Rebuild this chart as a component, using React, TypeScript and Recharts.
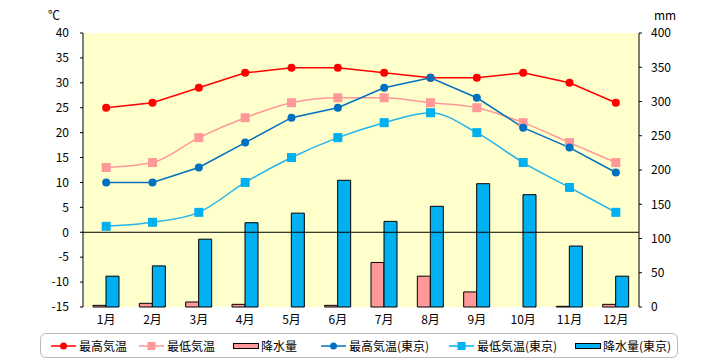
import React from 'react';
import { ComposedChart, Bar, Line, XAxis, YAxis, CartesianGrid, ReferenceLine } from 'recharts';

const months = ['1月', '2月', '3月', '4月', '5月', '6月', '7月', '8月', '9月', '10月', '11月', '12月'];
const maxTemp = [25, 26, 29, 32, 33, 33, 32, 31, 31, 32, 30, 26];
const minTemp = [13, 14, 19, 23, 26, 27, 27, 26, 25, 22, 18, 14];
const rain = [2.4, 5.4, 7.3, 3.9, 0, 2.4, 65, 45, 22, 0, 1, 3.9];
const maxTokyo = [10, 10, 13, 18, 23, 25, 29, 31, 27, 21, 17, 12];
const minTokyo = [1.2, 2, 4, 10, 15, 19, 22, 24, 20, 14, 9, 4];
const rainTokyo = [45, 60, 99, 123, 137, 185, 125, 147, 180, 164, 89, 45];

const tempTicks = [-15, -10, -5, 0, 5, 10, 15, 20, 25, 30, 35, 40];
const rainTicks = [0, 50, 100, 150, 200, 250, 300, 350, 400];

const data = months.map((m, i) => ({
  month: m,
  maxTemp: maxTemp[i],
  minTemp: minTemp[i],
  rain: rain[i],
  maxTokyo: maxTokyo[i],
  minTokyo: minTokyo[i],
  rainTokyo: rainTokyo[i],
}));

const font = '"Noto Sans CJK JP", "Noto Sans", sans-serif';

const squareDot = (fill: string) => (props: any) => {
  const { cx, cy, index } = props;
  if (cx == null || cy == null) return null;
  return <rect key={index} x={cx - 4.5} y={cy - 4.5} width={9} height={9} fill={fill} />;
};

const legendItems = [
  { label: '最高気温', color: '#FF0000', kind: 'circle', left: 50 },
  { label: '最低気温', color: '#FF9999', kind: 'square', left: 138 },
  { label: '降水量', color: '#FF9999', kind: 'bar', left: 232 },
  { label: '最高気温(東京)', color: '#0070C0', kind: 'circle', left: 320 },
  { label: '最低気温(東京)', color: '#00B0F0', kind: 'square', left: 448 },
  { label: '降水量(東京)', color: '#00B0F0', kind: 'bar', left: 574 },
];

function LegendBox() {
  return (
    <div style={{ position: 'absolute', left: 40, top: 333, width: 636, height: 23, border: '1px solid #BBBBBB', borderRadius: 6, fontFamily: font, fontSize: 12 }}>
      {legendItems.map((it) => (
        <div key={it.label} style={{ position: 'absolute', left: it.left - 40, top: 0, height: 23, display: 'flex', alignItems: 'center' }}>
          <svg width={27} height={12} style={{ marginRight: 1 }}>
            {it.kind === 'bar' ? (
              <rect x={0.5} y={3.5} width={25} height={5} fill={it.color} stroke="#000" />
            ) : (
              <>
                <line x1={0} y1={6} x2={25} y2={6} stroke={it.color} strokeWidth={1.5} />
                {it.kind === 'circle'
                  ? <circle cx={12.5} cy={6} r={3.5} fill={it.color} />
                  : <rect x={8.5} y={2} width={8} height={8} fill={it.color} />}
              </>
            )}
          </svg>
          <span style={{ color: '#000', whiteSpace: 'nowrap' }}>{it.label}</span>
        </div>
      ))}
    </div>
  );
}

export default function App() {
  const tick = { fontSize: 12, fill: '#000', fontFamily: font };
  return (
    <div style={{ position: 'relative', width: 720, height: 360, background: '#fff' }}>
      <style>{'body{margin:0}'}</style>
      <div style={{ position: 'absolute', left: 48, top: 6, fontFamily: font, fontSize: 12 }}>℃</div>
      <div style={{ position: 'absolute', left: 654, top: 6, fontFamily: font, fontSize: 12 }}>mm</div>
      <ComposedChart width={720} height={360} data={data} margin={{ top: 33, right: 0, bottom: 0, left: 0 }} barGap={0} barSize={13}>
        <CartesianGrid fill="#FFFFCC" fillOpacity={1} stroke="none" />
        <XAxis dataKey="month" axisLine={false} tickLine={false} tickSize={0} tickMargin={8} height={53} tick={tick} interval={0} />
        <YAxis yAxisId="t" orientation="left" width={83} domain={[-15, 40]} ticks={tempTicks} interval={0}
          tick={tick} tickSize={3} tickMargin={11} axisLine={{ stroke: '#000' }} tickLine={{ stroke: '#000' }} />
        <YAxis yAxisId="p" orientation="right" width={81} domain={[0, 400]} ticks={rainTicks} interval={0}
          tick={{ ...tick, textAnchor: 'start' }} tickSize={3} tickMargin={9} axisLine={{ stroke: '#000' }} tickLine={{ stroke: '#000' }} />
        <Bar yAxisId="p" dataKey="rain" fill="#FF9999" stroke="#000" strokeWidth={1} isAnimationActive={false} />
        <Bar yAxisId="p" dataKey="rainTokyo" fill="#00B0F0" stroke="#000" strokeWidth={1} isAnimationActive={false} />
        <ReferenceLine yAxisId="t" y={0} stroke="#000" strokeWidth={1} />
        <Line yAxisId="t" dataKey="maxTemp" type="linear" stroke="#FF0000" strokeWidth={1.5}
          dot={{ r: 4, fill: '#FF0000', stroke: 'none' }} isAnimationActive={false} />
        <Line yAxisId="t" dataKey="minTemp" type="monotone" stroke="#FF9999" strokeWidth={1.5}
          dot={squareDot('#FF9999')} isAnimationActive={false} />
        <Line yAxisId="t" dataKey="maxTokyo" type="linear" stroke="#0070C0" strokeWidth={1.5}
          dot={{ r: 4, fill: '#0070C0', stroke: 'none' }} isAnimationActive={false} />
        <Line yAxisId="t" dataKey="minTokyo" type="monotone" stroke="#22B4EE" strokeWidth={1.5}
          dot={squareDot('#00B0F0')} isAnimationActive={false} />
      </ComposedChart>
      <LegendBox />
    </div>
  );
}
